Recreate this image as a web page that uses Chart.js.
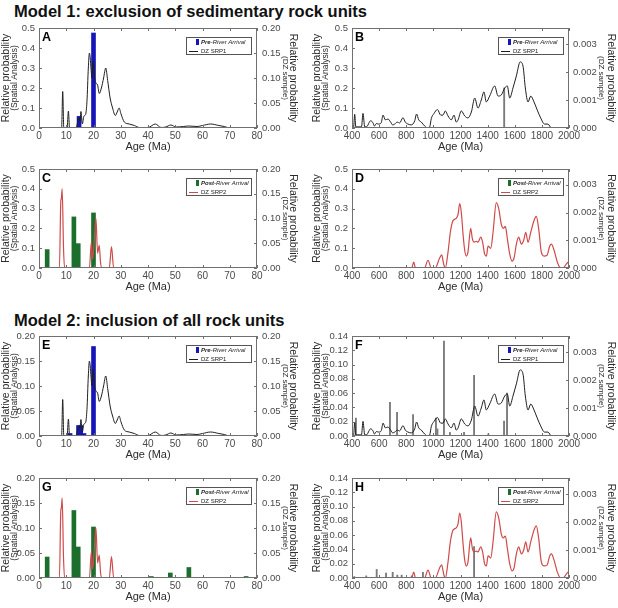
<!DOCTYPE html>
<html>
<head>
<meta charset="utf-8">
<script src="https://cdn.jsdelivr.net/npm/chart.js@4.4.1/dist/chart.umd.min.js"></script>
<style>
  body { margin: 0; background: #fff; width: 618px; height: 608px; position: relative; overflow: hidden;
         font-family: "Liberation Sans", Arial, sans-serif; }
  .ttl { position: absolute; left: 14px; font-weight: bold; font-size: 16.5px; line-height: 16.5px;
         color: #111; white-space: nowrap; }
  canvas { position: absolute; }
</style>
</head>
<body>
<div class="ttl" style="top:3px">Model 1: exclusion of sedimentary rock units</div>
<div class="ttl" style="top:312px">Model 2: inclusion of all rock units</div>
<script>
// tick labels
const youngAgeTicks = ['0', '10', '20', '30', '40', '50', '60', '70', '80'];
const oldAgeTicks = ['400', '600', '800', '1000', '1200', '1400', '1600', '1800', '2000'];
const spatialTicksM1 = ['0.0', '0.1', '0.2', '0.3', '0.4', '0.5'];
const spatialTicksYoungM2 = ['0.00', '0.05', '0.10', '0.15', '0.20'];
const spatialTicksOldM2 = ['0.00', '0.02', '0.04', '0.06', '0.08', '0.10', '0.12', '0.14'];
const dzTicksYoung = ['0.00', '0.05', '0.10', '0.15', '0.20'];
const dzTicksOld = ['0.000', '0.001', '0.002', '0.003'];

const legendPre = ['Pre', '-River Arrival'];
const legendPost = ['Post', '-River Arrival'];

// DZ sample curves [age Ma, relative probability]
const srp1Young = [[0,0],[8.3,0],[8.7,0.073],[9.1,0],[10.3,0],[10.8,0.034],[11.2,0],[13.6,0],[14.2,0.012],
  [14.6,0.02],[15.0,0.015],[15.4,0.033],[15.9,0.008],[16.5,0.024],[17.1,0.027],[17.6,0.053],[18.1,0.12],
  [18.5,0.15],[18.8,0.14],[19.1,0.118],[19.4,0.1],[19.9,0.133],[20.4,0.1],[20.9,0.09],[21.5,0.086],
  [22.1,0.069],[22.9,0.08],[23.7,0.1],[24.5,0.12],[25.2,0.095],[26.1,0.06],[27,0.04],[28,0.025],
  [28.7,0.032],[29.4,0.04],[30.1,0.028],[31.3,0.012],[33.1,0.008],[35,0.005],[36.8,0.001],[40,0.001],
  [42.7,0.008],[44.8,0.001],[46.5,0.002],[48.4,0.006],[50.3,0.002],[53,0.003],[55,0.004],[58,0.003],
  [60,0.005],[63,0.008],[66,0.005],[68,0.003],[70,0],[80,0]];

const srp1Old = [[400,0],[412,0.00004],[420,0.00049],[428,0.00004],[470,0.00004],[481,0.00052],[494,0.00004],
  [506,0.00004],[538,0.00026],[555,0.00018],[566,0.00007],[580,0.00016],[597,0.00014],[615,0.00018],
  [629,0.00046],[646,0.00029],[665,0.00032],[685,0.00021],[700,0.00011],[715,0.00014],[734,0.00021],
  [751,0.00018],[776,0.00037],[793,0.00021],[813,0.00014],[837,0.00011],[862,0.00025],[876,0.0005],
  [892,0.00029],[911,0.00021],[936,0.00007],[960,0],[973,0.00004],[985,0.00034],[1005,0.00052],
  [1030,0.00066],[1054,0.00046],[1071,0.00046],[1088,0.00061],[1108,0.00043],[1132,0.00029],
  [1152,0.00046],[1169,0.00021],[1182,0.00029],[1206,0.00061],[1231,0.00043],[1255,0.00036],
  [1280,0.00057],[1305,0.00107],[1329,0.00071],[1353,0.001],[1373,0.00129],[1390,0.00093],
  [1415,0.00114],[1452,0.0015],[1477,0.00114],[1501,0.00118],[1526,0.00143],[1545,0.0015],
  [1563,0.00107],[1587,0.00143],[1612,0.00186],[1640,0.00236],[1661,0.00221],[1678,0.00143],
  [1698,0.00093],[1718,0.00114],[1742,0.00093],[1766,0.00064],[1791,0.00036],[1820,0.00014],
  [1845,0.00014],[1870,0],[2000,0]];

const srp2Young = [[0,0],[7.5,0],[8.0,0.135],[8.2,0.14],[8.5,0.16],[9.0,0.04],[9.4,0],[18.5,0],[19.2,0.052],
  [19.7,0.018],[20.3,0.06],[20.9,0.1],[21.5,0.03],[22.1,0.046],[22.6,0.01],[23.1,0],[25.8,0],[26.6,0.043],
  [27.4,0],[80,0]];

const srp2Old = [[400,0],[840,0],[855,0.00021],[869,0],[935,0],[960,0.00028],[985,0],[1014,0],[1046,0.00036],
  [1061,0.00047],[1076,0.00014],[1088,0],[1108,0.00057],[1125,0.00129],[1145,0.00171],[1169,0.00179],
  [1182,0.00193],[1194,0.00232],[1206,0.002],[1219,0.00121],[1231,0.00064],[1243,0.00043],[1255,0.00057],
  [1275,0.00143],[1287,0.00107],[1300,0.00093],[1317,0.00096],[1329,0.00093],[1349,0.00111],[1363,0.00093],
  [1378,0.0005],[1391,0.00043],[1403,0.00079],[1423,0.00071],[1440,0.00129],[1464,0.00236],[1482,0.00214],
  [1501,0.00157],[1516,0.00143],[1531,0.0015],[1545,0.00107],[1563,0.0005],[1580,0.00025],[1595,0.00036],
  [1612,0.00086],[1629,0.00111],[1649,0.00086],[1666,0.001],[1681,0.00129],[1698,0.00093],[1718,0.00129],
  [1742,0.00171],[1759,0.00186],[1776,0.00143],[1796,0.00057],[1816,0.00043],[1838,0.00046],[1858,0.00079],
  [1870,0.00086],[1890,0.00064],[1914,0.00021],[1939,0],[1956,0],[1980,0.00014],[2000,0.00024]];

// spatial analysis bars [age Ma, relative probability]
const preYoungM1 = [[14.7,0.058],[20,0.475]];
const preOldM1 = [[1522,0.2]];
const postYoungM1 = [[3,0.093],[12.8,0.258],[14.4,0.123],[20,0.278]];
const postOldM1 = [];
const preYoungM2 = [[11.4,0.005],[14.5,0.021],[15.3,0.021],[16.5,0.005],[20,0.179]];
const preOldM2 = [[429,0.025],[680,0.047],[732,0.033],[850,0.03],[1019,0.025],[1030,0.01],[1078,0.133],
  [1122,0.005],[1226,0.005],[1300,0.085],[1405,0.003],[1521,0.021],[1543,0.06]];
const postYoungM2 = [[3,0.042],[12.8,0.135],[14.4,0.062],[20,0.102],[41.2,0.003],[48.2,0.01],[55,0.021],
  [62,0.001],[69.3,0.001],[76,0.003]];
const postOldM2 = [[417,0.002],[505,0.003],[582,0.012],[651,0.007],[700,0.008],[734,0.004],[766,0.004],
  [840,0.003],[923,0.008],[1300,0.044]];

const FAM = '"Liberation Sans", Arial, sans-serif';
const BLUE = '#1616b8', GREEN = '#1b6e2c', BLACK = '#1e1e1e', RED = '#cf4a4a', THIN = '#7a7a7a';

const panels = [
  { letter: 'A', x: 0,   y: 16,  h: 140, ages: youngAgeTicks, spatial: spatialTicksM1, dz: dzTicksYoung, dzMax: 0.2, line: srp1Young, bars: preYoungM1, pre: true },
  { letter: 'B', x: 309, y: 16,  h: 140, ages: oldAgeTicks, spatial: spatialTicksM1, dz: dzTicksOld, dzMax: 0.00357, line: srp1Old, bars: preOldM1, pre: true },
  { letter: 'C', x: 0,   y: 157, h: 139, ages: youngAgeTicks, spatial: spatialTicksM1, dz: dzTicksYoung, dzMax: 0.2, line: srp2Young, bars: postYoungM1, pre: false },
  { letter: 'D', x: 309, y: 157, h: 139, ages: oldAgeTicks, spatial: spatialTicksM1, dz: dzTicksOld, dzMax: 0.00357, line: srp2Old, bars: postOldM1, pre: false },
  { letter: 'E', x: 0,   y: 324, h: 140, ages: youngAgeTicks, spatial: spatialTicksYoungM2, dz: dzTicksYoung, dzMax: 0.2, line: srp1Young, bars: preYoungM2, pre: true },
  { letter: 'F', x: 309, y: 324, h: 140, ages: oldAgeTicks, spatial: spatialTicksOldM2, dz: dzTicksOld, dzMax: 0.00357, line: srp1Old, bars: preOldM2, pre: true },
  { letter: 'G', x: 0,   y: 466, h: 140, ages: youngAgeTicks, spatial: spatialTicksYoungM2, dz: dzTicksYoung, dzMax: 0.2, line: srp2Young, bars: postYoungM2, pre: false },
  { letter: 'H', x: 309, y: 466, h: 140, ages: oldAgeTicks, spatial: spatialTicksOldM2, dz: dzTicksOld, dzMax: 0.00357, line: srp2Old, bars: postOldM2, pre: false }
];

// frame, inward ticks, legend box, panel letter and axis titles
const panelDecor = {
  id: 'panel',
  afterDraw(chart, args, o) {
    const { ctx, chartArea: a, scales } = chart;
    ctx.save();
    ctx.strokeStyle = '#707070';
    ctx.lineWidth = 1;
    ctx.strokeRect(a.left + 0.5, a.top + 0.5, a.right - a.left - 1, a.bottom - a.top - 1);
    ctx.beginPath();
    scales.x.ticks.forEach(t => {
      const px = Math.round(scales.x.getPixelForValue(t.value)) + 0.5;
      ctx.moveTo(px, a.bottom); ctx.lineTo(px, a.bottom - 3);
      ctx.moveTo(px, a.top); ctx.lineTo(px, a.top + 3);
    });
    scales.y.ticks.forEach(t => {
      const py = Math.round(scales.y.getPixelForValue(t.value)) + 0.5;
      ctx.moveTo(a.left, py); ctx.lineTo(a.left + 3, py);
    });
    scales.y2.ticks.forEach(t => {
      const py = Math.round(scales.y2.getPixelForValue(t.value)) + 0.5;
      ctx.moveTo(a.right, py); ctx.lineTo(a.right - 3, py);
    });
    ctx.stroke();

    // legend
    const bw = 66, bh = 18;
    const bx = a.right - 5 - bw, by = a.top + 9;
    ctx.fillStyle = '#fff';
    ctx.fillRect(bx, by, bw, bh);
    ctx.strokeStyle = '#555';
    ctx.strokeRect(bx + 0.5, by + 0.5, bw - 1, bh - 1);
    ctx.fillStyle = o.legendColor;
    ctx.fillRect(bx + 10, by + 2, 3, 6);
    ctx.fillStyle = '#222';
    ctx.textBaseline = 'middle';
    ctx.textAlign = 'left';
    ctx.font = 'italic bold 6px ' + FAM;
    ctx.fillText(o.legend[0], bx + 15, by + 5.5);
    const w0 = ctx.measureText(o.legend[0]).width;
    ctx.font = 'italic 6px ' + FAM;
    ctx.fillText(o.legend[1], bx + 15 + w0, by + 5.5);
    ctx.strokeStyle = o.lineColor;
    ctx.lineWidth = 1;
    ctx.beginPath();
    ctx.moveTo(bx + 3, by + 14.5); ctx.lineTo(bx + 12, by + 14.5);
    ctx.stroke();
    ctx.font = '6px ' + FAM;
    ctx.fillText(o.lineLabel, bx + 15, by + 14.5);

    // letter
    ctx.fillStyle = '#000';
    ctx.font = 'bold 12.5px ' + FAM;
    ctx.textBaseline = 'alphabetic';
    ctx.fillText(o.letter, a.left + 3, a.top + 12.5);

    // axis titles
    ctx.fillStyle = '#2b2b2b';
    ctx.textAlign = 'center';
    ctx.textBaseline = 'middle';
    const cy = (a.top + a.bottom) / 2;
    const rot = (x, ang, font, text) => {
      ctx.save(); ctx.translate(x, cy); ctx.rotate(ang);
      ctx.font = font; ctx.fillText(text, 0, 0); ctx.restore();
    };
    rot(a.left - o.lMain, -Math.PI / 2, '10.5px ' + FAM, 'Relative probability');
    rot(a.left - o.lSub, -Math.PI / 2, '8.5px ' + FAM, '(Spatial Analysis)');
    rot(a.right + o.rMain, Math.PI / 2, '10.5px ' + FAM, 'Relative probability');
    rot(a.right + o.rSub, Math.PI / 2, '8px ' + FAM, '(DZ sample)');
    ctx.font = '11px ' + FAM;
    ctx.fillText('Age (Ma)', (a.left + a.right) / 2, a.bottom + 19);
    ctx.restore();
  }
};

const tickColor = '#4a4a4a';
const tickFont = { size: 9.5, family: FAM };

panels.forEach(p => {
  const leftCol = p.x === 0;
  const young = p.ages === youngAgeTicks;
  const cv = document.createElement('canvas');
  cv.width = 309;
  cv.height = p.h;
  cv.style.left = p.x + 'px';
  cv.style.top = p.y + 'px';
  document.body.appendChild(cv);

  new Chart(cv, {
    type: 'line',
    data: {
      datasets: [
        {
          type: 'line',
          data: p.line.map(([x, y]) => ({ x, y })),
          yAxisID: 'y2',
          borderColor: p.pre ? BLACK : RED,
          borderWidth: p.pre ? 1 : 1.2,
          pointRadius: 0,
          cubicInterpolationMode: 'monotone',
          fill: false,
          order: 0
        },
        {
          type: 'bar',
          data: p.bars.map(([x, y]) => ({ x, y })),
          yAxisID: 'y',
          backgroundColor: young ? (p.pre ? BLUE : GREEN) : THIN,
          barThickness: young ? 4 : 1.2,
          order: 1
        }
      ]
    },
    options: {
      responsive: false,
      animation: false,
      events: [],
      layout: { padding: { top: 12, left: 0, right: 0, bottom: 0 } },
      plugins: {
        legend: { display: false },
        tooltip: { enabled: false },
        panel: {
          letter: p.letter,
          legend: p.pre ? legendPre : legendPost,
          legendColor: p.pre ? BLUE : GREEN,
          lineColor: p.pre ? BLACK : RED,
          lineLabel: p.pre ? 'DZ SRP1' : 'DZ SRP2',
          lMain: leftCol ? 33 : 35,
          lSub: leftCol ? 24.5 : 26.5,
          rMain: young ? 36 : 42,
          rSub: young ? 28 : 32.5
        }
      },
      scales: {
        x: {
          type: 'linear',
          min: +p.ages[0],
          max: +p.ages[p.ages.length - 1],
          offset: false,
          grid: { display: false, drawTicks: false, offset: false },
          border: { display: false },
          afterBuildTicks: s => { s.ticks = p.ages.map(v => ({ value: +v })); },
          afterFit: s => { s.height = 28; },
          ticks: { autoSkip: false, maxRotation: 0, padding: 2, color: tickColor,
                   font: { size: 10, family: FAM }, callback: (v, i) => p.ages[i] }
        },
        y: {
          type: 'linear',
          position: 'left',
          min: 0,
          max: +p.spatial[p.spatial.length - 1],
          grid: { display: false, drawTicks: false },
          border: { display: false },
          afterBuildTicks: s => { s.ticks = p.spatial.map(v => ({ value: +v })); },
          afterFit: s => { s.width = leftCol ? 39 : 43; },
          ticks: { autoSkip: false, padding: 4, color: tickColor, font: tickFont,
                   callback: (v, i) => p.spatial[i] }
        },
        y2: {
          type: 'linear',
          position: 'right',
          min: 0,
          max: p.dzMax,
          grid: { display: false, drawTicks: false },
          border: { display: false },
          afterBuildTicks: s => { s.ticks = p.dz.map(v => ({ value: +v })); },
          afterFit: s => { s.width = leftCol ? 52 : 49; },
          ticks: { autoSkip: false, padding: leftCol ? 5 : 4, color: tickColor, font: tickFont,
                   callback: (v, i) => p.dz[i] }
        }
      }
    },
    plugins: [panelDecor]
  });
});
</script>
</body>
</html>
